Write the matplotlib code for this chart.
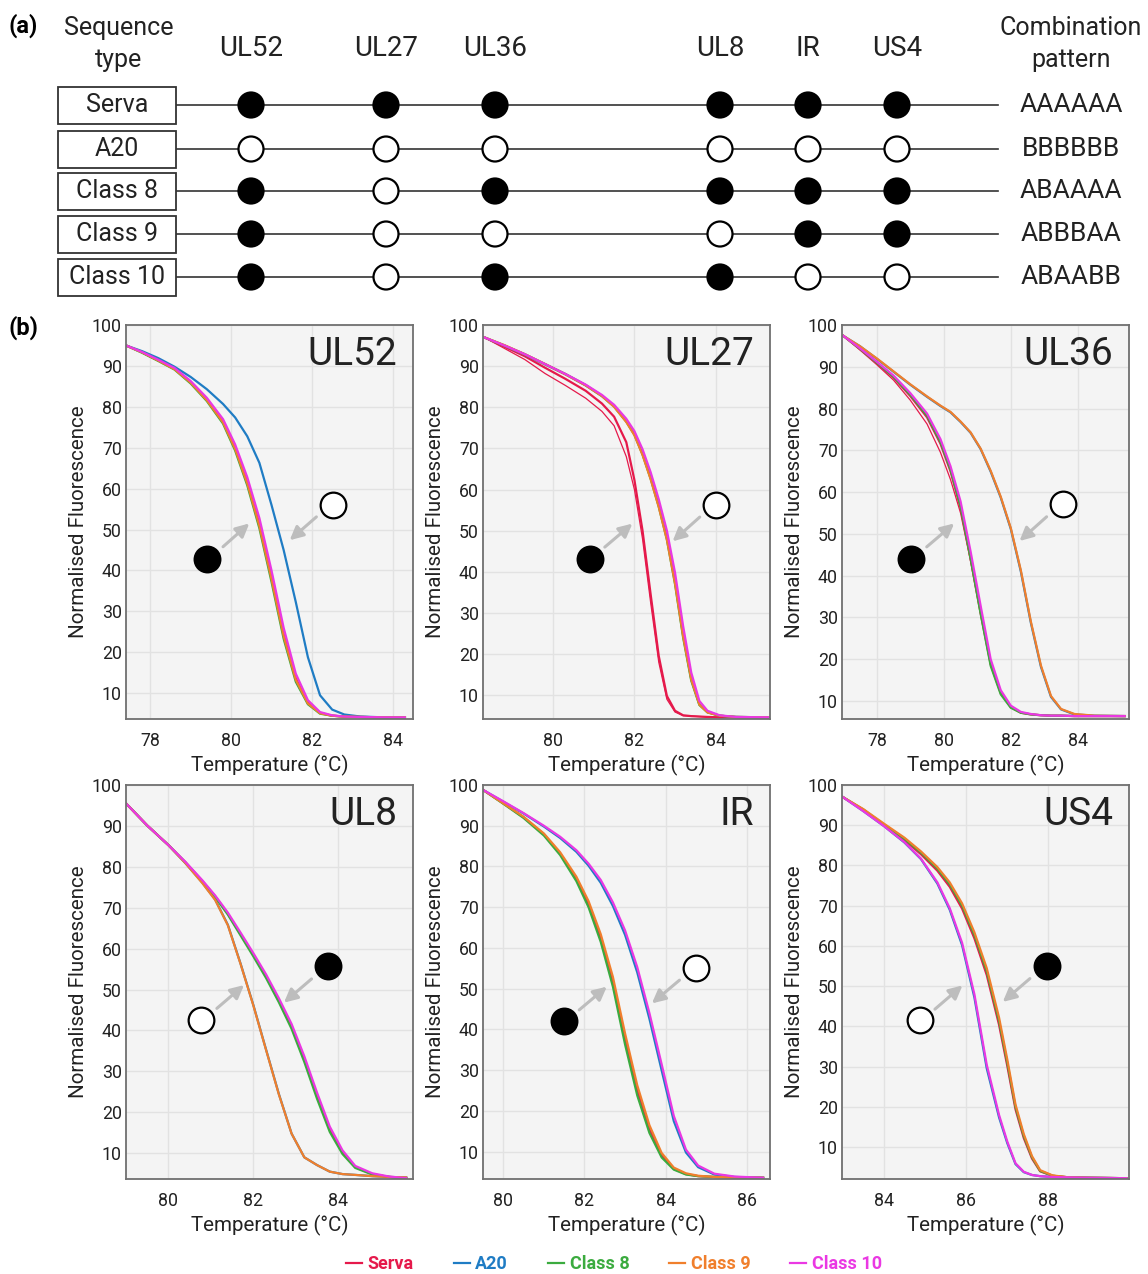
import matplotlib
matplotlib.use("Agg")
import matplotlib.pyplot as plt
from matplotlib.patches import Rectangle, Circle

plt.rcParams['font.family'] = ['Roboto', 'DejaVu Sans']

W, H = 1148, 1274
fig = plt.figure(figsize=(W / 100, H / 100), dpi=100)

# ---------------- data ----------------
SEQ_TYPES = ["Serva", "A20", "Class 8", "Class 9", "Class 10"]
GENES = ["UL52", "UL27", "UL36", "UL8", "IR", "US4"]
SERVA_STATE = ["A", "A", "A", "A", "A", "A"]
A20_STATE = ["B", "B", "B", "B", "B", "B"]
C8_STATE = ["A", "B", "A", "A", "A", "A"]
C9_STATE = ["A", "B", "B", "B", "A", "A"]
C10_STATE = ["A", "B", "A", "A", "B", "B"]
COLORS = ["#e5194b", "#1f7cc4", "#3bab3f", "#f07f2c", "#ea38e3"]

UL52_T = [77.4, 77.8, 78.2, 78.6, 79.0, 79.4, 79.8, 80.1, 80.4, 80.7, 81.0, 81.3, 81.6, 81.9, 82.2, 82.5, 82.8, 83.2, 83.8, 84.3]
UL52_SERVA = [95.0, 93.3, 91.3, 89.3, 86.0, 81.8, 76.4, 70.0, 61.8, 51.5, 38.5, 24.5, 13.7, 7.7, 5.2, 4.5, 4.3, 4.2, 4.1, 4.1]
UL52_A20 = [95.0, 93.6, 91.9, 89.8, 87.3, 84.3, 80.7, 77.4, 72.8, 66.3, 56.0, 45.0, 32.3, 18.8, 9.5, 6.0, 4.8, 4.3, 4.1, 4.1]
UL52_C8 = [95.0, 93.2, 91.2, 89.1, 85.7, 81.4, 75.9, 69.3, 60.8, 50.3, 37.2, 23.3, 12.8, 7.3, 5.0, 4.5, 4.3, 4.2, 4.1, 4.1]
UL52_C9 = [95.0, 93.3, 91.3, 89.2, 85.9, 81.6, 76.2, 69.7, 61.3, 50.9, 37.9, 24.0, 13.3, 7.5, 5.1, 4.5, 4.3, 4.2, 4.1, 4.1]
UL52_C10 = [95.0, 93.4, 91.5, 89.5, 86.3, 82.2, 77.0, 70.8, 62.8, 52.8, 40.0, 26.0, 14.8, 8.3, 5.4, 4.6, 4.3, 4.2, 4.1, 4.1]

UL27_T = [78.3, 78.8, 79.3, 79.8, 80.3, 80.8, 81.2, 81.5, 81.8, 82.0, 82.2, 82.4, 82.6, 82.8, 83.0, 83.2, 83.4, 83.6, 83.8, 84.1, 84.5, 85.3]
UL27_SERVA = [97.0, 94.7, 92.4, 89.6, 86.9, 84.0, 80.9, 77.7, 71.5, 62.3, 50.0, 34.5, 19.5, 9.8, 6.2, 5.1, 4.9, 4.8, 4.7, 4.6, 4.6, 4.6]
UL27_SERVA_REP = [97.0, 94.3, 91.6, 88.2, 85.3, 82.2, 79.0, 75.5, 68.0, 60.0, 48.0, 32.5, 18.0, 9.0, 5.9, 5.0, 4.9, 4.8, 4.7, 4.6, 4.6, 4.6]
UL27_A20 = [97.0, 95.0, 92.8, 90.4, 88.0, 85.3, 82.7, 80.2, 76.6, 73.5, 68.8, 63.0, 56.3, 48.5, 37.8, 24.7, 14.0, 7.8, 5.9, 5.0, 4.7, 4.6]
UL27_C8 = [97.0, 95.0, 92.9, 90.5, 88.1, 85.4, 82.8, 80.2, 76.5, 73.3, 68.5, 62.6, 55.8, 47.8, 37.0, 24.0, 13.5, 7.6, 5.8, 5.0, 4.7, 4.6]
UL27_C9 = [97.0, 95.1, 92.9, 90.5, 88.0, 85.3, 82.7, 80.1, 76.4, 73.2, 68.4, 62.5, 55.7, 47.8, 37.2, 24.3, 13.8, 7.7, 5.8, 5.0, 4.7, 4.6]
UL27_C10 = [97.0, 95.0, 92.9, 90.5, 88.1, 85.5, 83.0, 80.6, 77.2, 74.2, 69.8, 64.2, 57.6, 50.0, 39.8, 26.8, 15.5, 8.6, 6.2, 5.1, 4.7, 4.6]

UL36_T = [77.0, 77.5, 78.0, 78.5, 79.0, 79.5, 79.9, 80.2, 80.5, 80.8, 81.1, 81.4, 81.7, 82.0, 82.3, 82.6, 82.9, 83.2, 83.5, 83.9, 84.5, 85.4]
UL36_SERVA = [97.4, 94.2, 90.9, 87.4, 83.0, 77.9, 71.6, 65.0, 56.3, 44.0, 31.0, 18.8, 11.9, 8.5, 7.2, 6.8, 6.6, 6.5, 6.5, 6.4, 6.4, 6.4]
UL36_SERVA_REP = [97.4, 94.0, 90.5, 86.8, 82.0, 76.3, 69.5, 63.0, 55.0, 43.5, 30.8, 18.6, 11.8, 8.5, 7.2, 6.8, 6.6, 6.5, 6.5, 6.4, 6.4, 6.4]
UL36_A20 = [97.4, 94.9, 91.9, 88.8, 85.7, 82.8, 80.6, 79.1, 76.8, 74.2, 70.3, 64.9, 58.7, 51.2, 41.0, 28.7, 18.2, 11.0, 8.0, 6.8, 6.5, 6.4]
UL36_C8 = [97.4, 94.3, 91.0, 87.6, 83.3, 78.3, 72.0, 65.4, 56.6, 44.1, 30.9, 18.4, 11.6, 8.4, 7.2, 6.8, 6.6, 6.5, 6.5, 6.4, 6.4, 6.4]
UL36_C9 = [97.4, 94.9, 92.0, 88.9, 85.8, 82.9, 80.7, 79.2, 76.9, 74.3, 70.4, 65.1, 58.9, 51.4, 41.3, 29.0, 18.5, 11.2, 8.1, 6.9, 6.5, 6.4]
UL36_C10 = [97.4, 94.4, 91.2, 87.9, 83.7, 78.8, 72.7, 66.2, 57.8, 45.8, 32.8, 20.0, 12.6, 8.9, 7.4, 6.9, 6.6, 6.5, 6.5, 6.4, 6.4, 6.4]

UL8_T = [79.0, 79.5, 80.0, 80.4, 80.8, 81.1, 81.4, 81.7, 82.0, 82.3, 82.6, 82.9, 83.2, 83.5, 83.8, 84.1, 84.4, 84.8, 85.2, 85.6]
UL8_SERVA = [95.5, 90.1, 85.3, 81.1, 76.5, 72.8, 68.5, 63.5, 58.5, 53.2, 47.4, 41.0, 33.0, 24.0, 15.8, 10.2, 6.6, 4.9, 4.2, 3.9]
UL8_A20 = [95.5, 90.1, 85.3, 80.9, 76.1, 72.0, 65.8, 56.3, 46.2, 35.3, 24.5, 14.8, 9.0, 7.1, 5.5, 4.9, 4.7, 4.4, 4.2, 4.1]
UL8_C8 = [95.5, 90.1, 85.3, 81.1, 76.4, 72.6, 68.3, 63.2, 58.1, 52.8, 46.9, 40.4, 32.3, 23.3, 15.2, 9.8, 6.4, 4.8, 4.2, 3.9]
UL8_C9 = [95.5, 90.1, 85.3, 80.9, 76.0, 71.9, 65.7, 56.2, 46.1, 35.2, 24.4, 14.8, 9.0, 7.1, 5.5, 4.9, 4.7, 4.4, 4.2, 4.1]
UL8_C10 = [95.5, 90.1, 85.3, 81.2, 76.7, 73.0, 68.8, 63.9, 58.9, 53.7, 47.9, 41.6, 33.7, 24.8, 16.5, 10.7, 6.9, 5.1, 4.3, 3.9]

IR_T = [79.5, 80.0, 80.5, 81.0, 81.4, 81.8, 82.1, 82.4, 82.7, 83.0, 83.3, 83.6, 83.9, 84.2, 84.5, 84.8, 85.2, 85.7, 86.4]
IR_SERVA = [98.8, 95.5, 92.1, 87.9, 83.2, 77.0, 70.8, 62.5, 51.7, 37.6, 25.0, 15.5, 9.1, 5.8, 4.5, 4.0, 3.8, 3.7, 3.6]
IR_A20 = [98.8, 95.9, 93.0, 89.8, 87.0, 83.6, 80.2, 76.0, 70.3, 63.2, 54.0, 42.6, 30.0, 17.5, 9.8, 6.2, 4.4, 3.8, 3.6]
IR_C8 = [98.8, 95.4, 91.9, 87.6, 82.8, 76.4, 70.0, 61.5, 50.5, 36.3, 23.8, 14.6, 8.6, 5.6, 4.4, 4.0, 3.8, 3.7, 3.6]
IR_C9 = [98.8, 95.5, 92.2, 88.1, 83.5, 77.5, 71.5, 63.4, 52.9, 39.0, 26.3, 16.5, 9.7, 6.1, 4.7, 4.1, 3.8, 3.7, 3.6]
IR_C10 = [98.8, 96.0, 93.1, 90.0, 87.3, 84.0, 80.7, 76.7, 71.2, 64.3, 55.3, 44.0, 31.5, 18.8, 10.5, 6.6, 4.6, 3.9, 3.6]

US4_T = [83.0, 83.5, 84.0, 84.5, 84.9, 85.3, 85.6, 85.9, 86.2, 86.5, 86.8, 87.0, 87.2, 87.4, 87.6, 87.8, 88.1, 88.5, 89.0, 89.9]
US4_SERVA = [97.0, 93.8, 90.0, 86.3, 82.8, 78.7, 74.7, 69.3, 61.9, 52.8, 40.4, 30.2, 19.4, 12.3, 7.2, 4.0, 2.9, 2.5, 2.4, 2.3]
US4_A20 = [97.0, 93.5, 89.8, 85.7, 81.6, 75.5, 69.0, 60.2, 47.2, 29.6, 17.4, 11.0, 5.8, 3.8, 3.1, 2.8, 2.6, 2.5, 2.4, 2.3]
US4_C8 = [97.0, 93.9, 90.2, 86.6, 83.2, 79.2, 75.3, 70.0, 62.7, 53.7, 41.3, 31.0, 20.0, 12.8, 7.5, 4.1, 2.9, 2.5, 2.4, 2.3]
US4_C9 = [97.0, 94.0, 90.4, 86.9, 83.5, 79.6, 75.8, 70.6, 63.4, 54.5, 42.2, 31.8, 20.6, 13.3, 7.8, 4.3, 3.0, 2.5, 2.4, 2.3]
US4_C10 = [97.0, 93.5, 89.8, 85.8, 81.7, 75.8, 69.4, 60.8, 48.0, 30.5, 18.0, 11.4, 6.0, 3.9, 3.1, 2.8, 2.6, 2.5, 2.4, 2.3]

X_TICKS = [[78, 80, 82, 84], [80, 82, 84], [78, 80, 82, 84], [80, 82, 84], [80, 82, 84, 86], [84, 86, 88]]
Y_TICKS = [10, 20, 30, 40, 50, 60, 70, 80, 90, 100]

# ---------------- layout helpers ----------------
def px_axes(x0, y0, x1, y1):
    return fig.add_axes([x0 / W, 1 - y1 / H, (x1 - x0) / W, (y1 - y0) / H])

TXT = '#222222'

# ---------------- panel (a) ----------------
top_h = 312
axa = px_axes(0, 0, W, top_h)
axa.set_xlim(0, W)
axa.set_ylim(top_h, 0)
axa.axis('off')

gene_x = [251, 386, 495, 720, 808, 897]
row_y = [105, 149, 191, 234, 277]
states = [SERVA_STATE, A20_STATE, C8_STATE, C9_STATE, C10_STATE]

axa.text(8, 26, "(a)", fontsize=17, fontweight='bold', ha='left', va='center')
axa.text(119, 28, "Sequence", fontsize=18, ha='center', va='center', color=TXT)
axa.text(119, 60, "type", fontsize=18, ha='center', va='center', color=TXT)
axa.text(1071, 28, "Combination", fontsize=18, ha='center', va='center', color=TXT)
axa.text(1071, 60, "pattern", fontsize=18, ha='center', va='center', color=TXT)
for g, gx in zip(GENES, gene_x):
    axa.text(gx, 48, g, fontsize=20, ha='center', va='center', color=TXT)

for name, st, ry in zip(SEQ_TYPES, states, row_y):
    axa.add_patch(Rectangle((58, ry - 18.5), 118, 37, facecolor='white', edgecolor='#333333', lw=1.3, zorder=3))
    axa.text(117, ry, name, fontsize=18, ha='center', va='center', color=TXT, zorder=4)
    axa.plot([176, 998], [ry, ry], color='#333333', lw=1.2, zorder=2)
    for s, gx in zip(st, gene_x):
        filled = (s == "A")
        axa.add_patch(Circle((gx, ry), 12.5, facecolor='black' if filled else 'white',
                             edgecolor='black', lw=1.6, zorder=5))
    axa.text(1071, ry, "".join(st), fontsize=19, ha='center', va='center', color=TXT)

fig.text(8 / W, 1 - 328 / H, "(b)", fontsize=17, fontweight='bold', ha='left', va='center')

# ---------------- panel (b) ----------------
panels = [
    ("UL52", UL52_T, [UL52_SERVA, UL52_A20, UL52_C8, UL52_C9, UL52_C10], None, (77.4, 84.5), 3.7, (126, 325)),
    ("UL27", UL27_T, [UL27_SERVA, UL27_A20, UL27_C8, UL27_C9, UL27_C10], UL27_SERVA_REP, (78.27, 85.34), 4.2, (483, 325)),
    ("UL36", UL36_T, [UL36_SERVA, UL36_A20, UL36_C8, UL36_C9, UL36_C10], UL36_SERVA_REP, (76.96, 85.53), 5.7, (842, 325)),
    ("UL8", UL8_T, [UL8_SERVA, UL8_A20, UL8_C8, UL8_C9, UL8_C10], None, (79.0, 85.76), 3.7, (126, 785)),
    ("IR", IR_T, [IR_SERVA, IR_A20, IR_C8, IR_C9, IR_C10], None, (79.5, 86.57), 3.3, (483, 785)),
    ("US4", US4_T, [US4_SERVA, US4_A20, US4_C8, US4_C9, US4_C10], None, (82.98, 89.96), 2.1, (842, 785)),
]

# annotation layout: (filled?, circle pos, arrow start, arrow end) x2
annots = [
    [(True, (79.41, 42.9), (79.80, 45.8), (80.45, 51.5)), (False, (82.51, 56.1), (82.11, 53.1), (81.45, 47.4))],
    [(True, (80.90, 43.2), (81.27, 46.0), (81.95, 51.7)), (False, (84.02, 56.3), (83.61, 53.3), (82.94, 47.4))],
    [(True, (79.02, 44.1), (79.49, 46.9), (80.31, 52.5)), (False, (83.57, 57.1), (83.07, 54.1), (82.26, 48.3))],
    [(False, (80.77, 42.6), (81.14, 45.4), (81.78, 51.1)), (True, (83.75, 55.7), (83.37, 52.6), (82.72, 46.8))],
    [(True, (81.49, 42.1), (81.87, 44.8), (82.55, 50.5)), (False, (84.75, 55.2), (84.34, 52.1), (83.66, 46.4))],
    [(False, (84.88, 41.7), (85.24, 44.3), (85.91, 50.2)), (True, (87.96, 55.1), (87.55, 51.9), (86.89, 46.1))],
]

aw, ah = 287, 394
handles = None
for i, (title, T, series, rep, xl, ybot, (px0, py0)) in enumerate(panels):
    ax = px_axes(px0, py0, px0 + aw, py0 + ah)
    ax.set_facecolor('#f4f4f4')
    ax.grid(True, color='#e2e2e2', lw=1.0)
    ax.set_axisbelow(True)
    for sp in ax.spines.values():
        sp.set_color('#707070')
        sp.set_linewidth(1.3)
    lines = []
    if rep is not None:
        ax.plot(T, rep, color=COLORS[0], lw=0.9, zorder=2)
    for name, vals, c in zip(SEQ_TYPES, series, COLORS):
        ln, = ax.plot(T, vals, color=c, lw=1.6, label=name, zorder=2)
        lines.append(ln)
    handles = lines
    ax.set_xlim(*xl)
    ax.set_ylim(ybot, 100)
    ax.set_xticks(X_TICKS[i])
    ax.set_yticks(Y_TICKS)
    ax.tick_params(length=0, labelsize=12.8, colors=TXT)
    ax.tick_params(axis='x', pad=9)
    ax.tick_params(axis='y', pad=3)
    ax.set_xlabel("Temperature (°C)", fontsize=14.8, labelpad=4, color=TXT)
    ax.set_ylabel("Normalised Fluorescence", fontsize=14.8, labelpad=3, color=TXT)
    ax.text(0.945, 0.925, title, transform=ax.transAxes, fontsize=28,
            ha='right', va='center', color=TXT)
    for filled, cpos, a0, a1 in annots[i]:
        ax.plot([cpos[0]], [cpos[1]], marker='o', ms=18.5, mew=1.6,
                mfc='black' if filled else 'white', mec='black', zorder=5)
        ax.annotate('', xy=a1, xytext=a0,
                    arrowprops=dict(arrowstyle='-|>,head_length=0.8,head_width=0.4',
                                    color='#bdbdbd', lw=2.2, shrinkA=0, shrinkB=0), zorder=4)

leg = fig.legend(handles=handles, labels=SEQ_TYPES, loc='center', ncol=5,
                 bbox_to_anchor=(614 / W, 1 - 1264 / H), frameon=False,
                 handlelength=0.9, handletextpad=0.3, columnspacing=2.2,
                 labelcolor='linecolor', prop={'size': 13, 'weight': 'bold'})

fig.savefig("out.png", dpi=100)
